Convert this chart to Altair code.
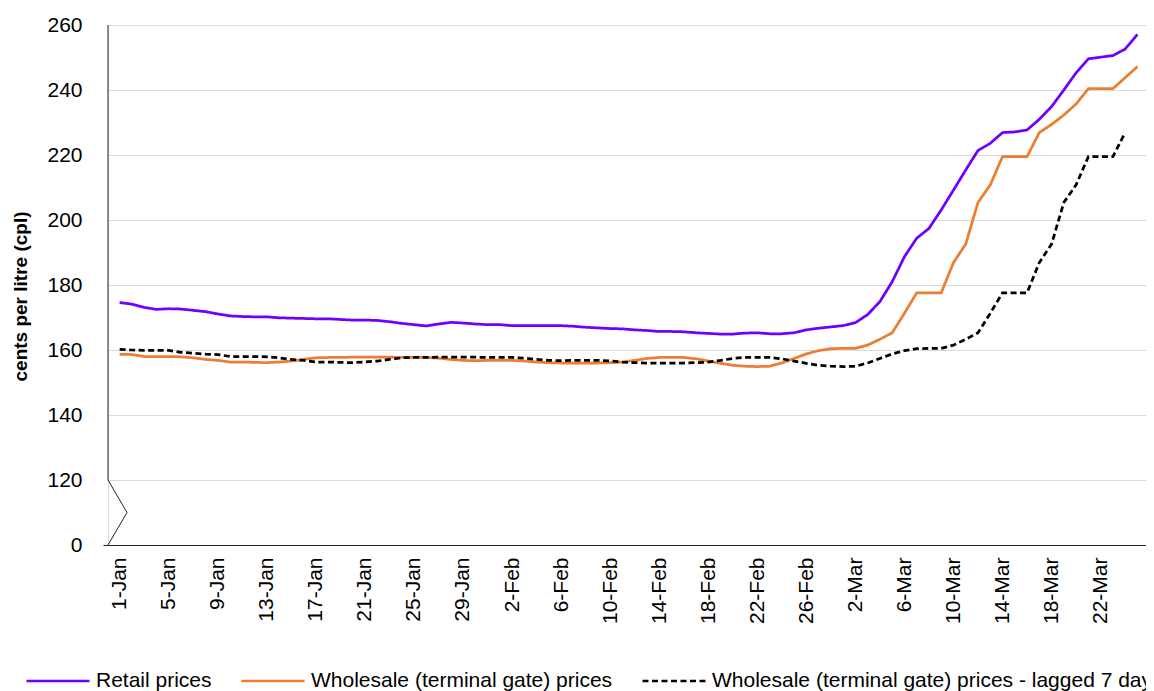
import json
import altair as alt
import pandas as pd

# ---------------- data ----------------
series_names = [
    "Retail prices",
    "Wholesale (terminal gate) prices",
    "Wholesale (terminal gate) prices - lagged 7 days",
]
series_colors = ["#6F00FF", "#ED7D31", "#000000"]
series_dashes = [[1, 0], [1, 0], [6, 3.5]]

# day index 0 = 1-Jan
days = list(range(84))

retail = [
    174.6, 174.1, 173.1, 172.5, 172.7, 172.6, 172.2, 171.8, 171.1, 170.5,
    170.3, 170.2, 170.2, 169.9, 169.8, 169.7, 169.6, 169.6, 169.4, 169.2,
    169.2, 169.1, 168.7, 168.2, 167.8, 167.4, 168.0, 168.5, 168.3, 168.0,
    167.8, 167.8, 167.5, 167.5, 167.5, 167.5, 167.5, 167.3, 167.0, 166.8,
    166.6, 166.5, 166.2, 166.0, 165.7, 165.7, 165.6, 165.3, 165.1, 164.9,
    164.9, 165.2, 165.3, 165.0, 165.0, 165.3, 166.2, 166.7, 167.1, 167.5,
    168.4, 170.9, 174.9, 181.0, 188.7, 194.4, 197.4, 203.1, 209.2, 215.4,
    221.4, 223.6, 226.9, 227.1, 227.7, 231.0, 234.9, 240.0, 245.3, 249.6,
    250.1, 250.6, 252.6, 257.1,
]

wholesale = [
    158.7, 158.6, 158.0, 158.0, 158.0, 157.9, 157.6, 157.1, 156.8, 156.3,
    156.3, 156.2, 156.1, 156.3, 156.6, 157.1, 157.6, 157.7, 157.7, 157.8,
    157.8, 157.8, 157.8, 157.7, 157.7, 157.7, 157.5, 157.1, 156.8, 156.7,
    156.8, 156.8, 156.8, 156.6, 156.3, 156.1, 156.0, 156.0, 156.0, 156.0,
    156.1, 156.3, 156.8, 157.4, 157.7, 157.7, 157.7, 157.3, 156.6, 155.9,
    155.3, 155.0, 154.9, 155.0, 156.0, 157.4, 158.8, 159.8, 160.4, 160.5,
    160.5, 161.5, 163.3, 165.3, 171.3, 177.6, 177.6, 177.6, 186.9, 192.6,
    205.4, 210.8, 219.5, 219.5, 219.5, 226.9, 229.4, 232.3, 235.7, 240.4,
    240.4, 240.4, 243.8, 247.2,
]

lagged = [
    160.2, 160.0, 159.9, 159.9, 159.9, 159.3, 159.0,
    158.7, 158.6, 158.0, 158.0, 158.0, 157.9, 157.6, 157.1, 156.8, 156.3,
    156.3, 156.2, 156.1, 156.3, 156.6, 157.1, 157.6, 157.7, 157.7, 157.8,
    157.8, 157.8, 157.8, 157.7, 157.7, 157.7, 157.5, 157.1, 156.8, 156.7,
    156.8, 156.8, 156.8, 156.6, 156.3, 156.1, 156.0, 156.0, 156.0, 156.0,
    156.1, 156.3, 156.8, 157.4, 157.7, 157.7, 157.7, 157.3, 156.6, 155.9,
    155.3, 155.0, 154.9, 155.0, 156.0, 157.4, 158.8, 159.8, 160.4, 160.5,
    160.5, 161.5, 163.3, 165.3, 171.3, 177.6, 177.6, 177.6, 186.9, 192.6,
    205.4, 210.8, 219.5, 219.5, 219.5, 226.9,
]

tick_days = list(range(0, 84, 4))
tick_labels = [
    "1-Jan", "5-Jan", "9-Jan", "13-Jan", "17-Jan", "21-Jan", "25-Jan",
    "29-Jan", "2-Feb", "6-Feb", "10-Feb", "14-Feb", "18-Feb", "22-Feb",
    "26-Feb", "2-Mar", "6-Mar", "10-Mar", "14-Mar", "18-Mar", "22-Mar",
]
y_ticks = [100, 120, 140, 160, 180, 200, 220, 240, 260]

# axis line with the break symbol (drawn in data units)
break_x = [-0.95, -0.95, 0.6, -0.95]
break_y = [260, 120, 110, 100]

# ---------------- build tables ----------------
rows = []
for name, vals in zip(series_names, [retail, wholesale, lagged]):
    for d, v in zip(days, vals):
        rows.append({"day": d, "value": v, "series": name})
df = pd.DataFrame(rows)
axis_df = pd.DataFrame({"x": break_x, "y": break_y, "o": list(range(len(break_x)))})

FONT = "Liberation Sans"
FS = 21

x_scale = alt.Scale(domain=[-0.95, 83.7], nice=False, zero=False)
y_scale = alt.Scale(domain=[100, 260], nice=False, zero=False)

legend = alt.Legend(
    title=None,
    orient="none",
    legendX=-83,
    legendY=623,
    direction="horizontal",
    columns=3,
    symbolType="stroke",
    symbolSize=3969,
    symbolStrokeWidth=2.5,
    labelFontSize=FS,
    labelFont=FONT,
    labelColor="#000000",
    labelLimit=2000,
    labelOffset=5,
    columnPadding=24,
    padding=0,
)

lines = alt.Chart(df).mark_line(strokeWidth=2.75).encode(
    x=alt.X(
        "day:Q",
        scale=x_scale,
        axis=alt.Axis(
            values=tick_days,
            labelExpr=f"{json.dumps(tick_labels)}[round(datum.value / 4)]",
            labelAngle=270,
            labelFontSize=FS,
            labelFont=FONT,
            labelColor="#000000",
            labelPadding=12,
            ticks=False,
            grid=False,
            domainColor="#222222",
            domainWidth=1,
            title=None,
            labelOverlap=False,
        ),
    ),
    y=alt.Y(
        "value:Q",
        scale=y_scale,
        axis=alt.Axis(
            values=y_ticks,
            labelExpr="datum.value == 100 ? '0' : datum.label",
            labelFontSize=FS,
            labelFont=FONT,
            labelColor="#000000",
            labelPadding=21,
            domain=False,
            ticks=True,
            tickSize=5,
            tickColor=alt.condition("datum.value == 100", alt.value("#222222"), alt.value("transparent")),
            grid=True,
            gridColor="#d9d9d9",
            gridWidth=1,
            title="cents per litre (cpl)",
            titleFont=FONT,
            titleFontSize=19,
            titleFontWeight="bold",
            titleColor="#000000",
            titleAngle=270,
            titleX=-88,
            titleY=271,
            titleAlign="center",
            titleBaseline="middle",
        ),
    ),
    color=alt.Color("series:N", scale=alt.Scale(domain=series_names, range=series_colors), legend=legend),
    strokeDash=alt.StrokeDash("series:N", scale=alt.Scale(domain=series_names, range=series_dashes), legend=legend),
)

axis_line = alt.Chart(axis_df).mark_line(color="#222222", strokeWidth=1).encode(
    x=alt.X("x:Q", scale=x_scale),
    y=alt.Y("y:Q", scale=y_scale),
    order="o:Q",
)

chart = (
    alt.layer(axis_line, lines)
    .properties(
        width=1038,
        height=520,
        padding={"left": 100, "top": 17, "right": 0, "bottom": 146},
        autosize="none",
        background="white",
    )
    .configure_view(stroke=None)
    .configure(font=FONT)
)

chart.save("out.html", embed_options={"renderer": "svg", "actions": False})
